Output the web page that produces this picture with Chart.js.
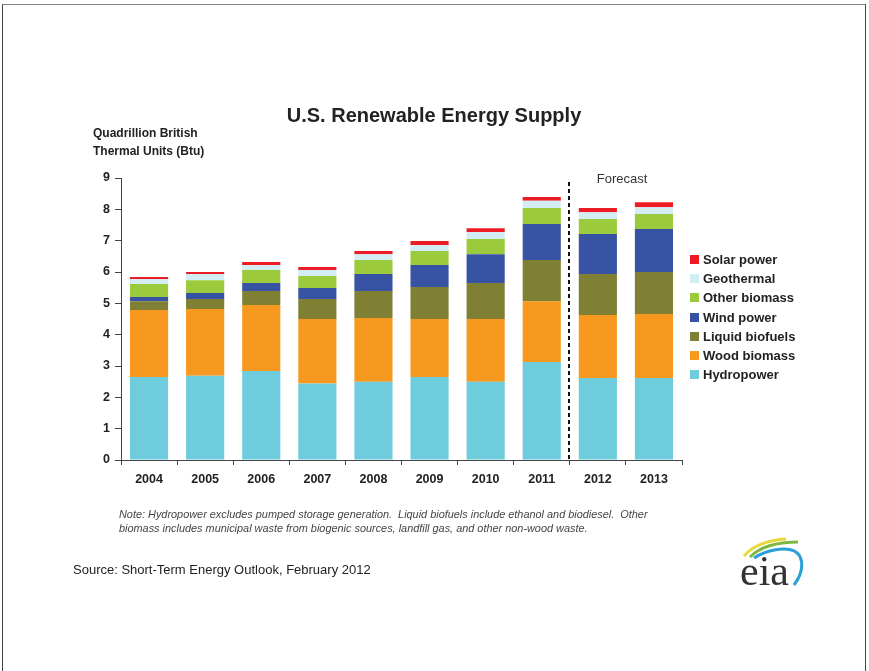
<!DOCTYPE html>
<html><head><meta charset="utf-8">
<script src="https://cdn.jsdelivr.net/npm/chart.js@4"></script>
<style>
body{margin:0;background:#fff;font-family:"Liberation Sans",Arial,sans-serif;}
#wrap{position:relative;width:869px;height:671px;overflow:hidden;background:#fff;}
#frame{position:absolute;left:2px;top:4px;width:862px;height:720px;border:1px solid #444;border-top-color:#888;}
#c{position:absolute;left:0;top:0;}
.t{position:absolute;white-space:nowrap;color:#222;}
#title{left:0;width:868px;text-align:center;top:104px;font-weight:bold;font-size:20px;line-height:23px;}
#ytitle{left:93px;top:125px;font-weight:bold;font-size:12px;line-height:17.5px;}
#legend{left:690px;top:250px;}
.li{height:19.2px;display:flex;align-items:center;font-weight:bold;font-size:13px;color:#222;}
.sw{width:9px;height:9px;margin-right:4px;}
#note{left:119px;top:507px;font-style:italic;font-size:10.9px;line-height:14px;color:#444;}
#source{left:73px;top:562px;font-size:13px;line-height:16px;}
#logo{position:absolute;left:730px;top:532px;}
</style></head>
<body>
<div id="wrap">
<div id="frame"></div>
<canvas id="c" width="869" height="671"></canvas>
<div class="t" id="title">U.S. Renewable Energy Supply</div>
<div class="t" id="ytitle">Quadrillion British<br>Thermal Units (Btu)</div>
<div class="t" id="legend"></div>
<div class="t" id="note">Note: Hydropower excludes pumped storage generation.&nbsp; Liquid biofuels include ethanol and biodiesel.&nbsp; Other<br>biomass includes municipal waste from biogenic sources, landfill gas, and other non-wood waste.</div>
<div class="t" id="source">Source: Short-Term Energy Outlook, February 2012</div>
<svg id="logo" width="80" height="65" viewBox="0 0 80 65">
  <path d="M14 24 C22 14 38 8 56 7" stroke="#E8D93A" stroke-width="3" fill="none"/>
  <path d="M20 25 C30 15 48 10 68 10" stroke="#7DB843" stroke-width="3" fill="none"/>
  <path d="M24 26 C36 18 56 14 66 20 C74 26 74 40 64 53" stroke="#2A9FD8" stroke-width="3" fill="none"/>
  <text x="10" y="53" font-family="Liberation Serif, serif" font-size="42" fill="#333">eia</text>
</svg>
</div>
<script>
const categories = ['2004','2005','2006','2007','2008','2009','2010','2011','2012','2013'];
const hydropower     = [2.65,2.69,2.84,2.44,2.50,2.65,2.50,3.13,2.62,2.62];
const woodBiomass    = [2.14,2.13,2.11,2.06,2.03,1.85,2.00,1.94,2.01,2.04];
const liquidBiofuels = [0.28,0.32,0.44,0.64,0.86,1.02,1.15,1.31,1.31,1.34];
const windPower      = [0.13,0.19,0.26,0.35,0.55,0.70,0.92,1.15,1.27,1.37];
const otherBiomass   = [0.42,0.41,0.41,0.38,0.44,0.45,0.48,0.51,0.48,0.48];
const geothermal     = [0.16,0.20,0.16,0.19,0.19,0.19,0.23,0.23,0.22,0.22];
const solarPower     = [0.06,0.06,0.10,0.10,0.10,0.13,0.12,0.12,0.13,0.16];
const seriesNames = ['Hydropower','Wood biomass','Liquid biofuels','Wind power','Other biomass','Geothermal','Solar power'];
const seriesData = [hydropower,woodBiomass,liquidBiofuels,windPower,otherBiomass,geothermal,solarPower];
const seriesColors = ['#6ECCDD','#F7991E','#7F8034','#3953A4','#9BCA3C','#D3EDF4','#ED1C24'];
const yMin = 0, yMax = 9, yStep = 1;
const forecastStart = '2012';
const forecastLabel = 'Forecast';

const legend = document.getElementById('legend');
for (let i = seriesNames.length - 1; i >= 0; i--) {
  const d = document.createElement('div'); d.className = 'li';
  const s = document.createElement('span'); s.className = 'sw'; s.style.background = seriesColors[i];
  d.appendChild(s); d.appendChild(document.createTextNode(seriesNames[i]));
  legend.appendChild(d);
}

const forecastPlugin = {
  id: 'forecast',
  afterDatasetsDraw(chart) {
    const {ctx, scales: {x, y}} = chart;
    const i = categories.indexOf(forecastStart);
    const px = Math.round((x.getPixelForValue(i - 1) + x.getPixelForValue(i)) / 2) - 1;
    ctx.save();
    ctx.setLineDash([4, 3]);
    ctx.lineWidth = 2;
    ctx.strokeStyle = '#111';
    ctx.beginPath();
    ctx.moveTo(px, y.getPixelForValue(8.87));
    ctx.lineTo(px, y.getPixelForValue(0));
    ctx.stroke();
    ctx.setLineDash([]);
    ctx.font = '13px "Liberation Sans", Arial, sans-serif';
    ctx.fillStyle = '#333';
    ctx.textAlign = 'center';
    ctx.textBaseline = 'middle';
    ctx.fillText(forecastLabel, px + 53, y.getPixelForValue(8.95));
    ctx.restore();
  }
};

new Chart(document.getElementById('c'), {
  type: 'bar',
  data: {
    labels: categories,
    datasets: seriesNames.map((n, i) => ({
      label: n, data: seriesData[i], backgroundColor: seriesColors[i],
      borderWidth: 0, barPercentage: 0.68, categoryPercentage: 1.0
    }))
  },
  options: {
    responsive: false,
    devicePixelRatio: 1,
    animation: false,
    layout: {padding: {left: 0, top: 178, right: 187, bottom: 171}},
    plugins: {legend: {display: false}, title: {display: false}, tooltip: {enabled: false}},
    scales: {
      x: {
        stacked: true,
        afterFit: s => { s.height = 40; },
        grid: {drawOnChartArea: false, drawTicks: true, tickLength: 5, color: '#444', offset: true},
        border: {display: true, color: '#444', width: 1},
        ticks: {color: '#222', font: {family: '"Liberation Sans", Arial, sans-serif', weight: 'bold', size: 12.5}, padding: 7, maxRotation: 0}
      },
      y: {
        stacked: true, min: yMin, max: yMax,
        afterFit: s => { s.width = 121; },
        grid: {drawOnChartArea: false, drawTicks: true, tickLength: 6, color: '#444'},
        border: {display: true, color: '#444', width: 1},
        ticks: {stepSize: yStep, color: '#222', font: {family: '"Liberation Sans", Arial, sans-serif', weight: 'bold', size: 12.5}, padding: 5}
      }
    }
  },
  plugins: [forecastPlugin]
});
</script>
</body></html>
